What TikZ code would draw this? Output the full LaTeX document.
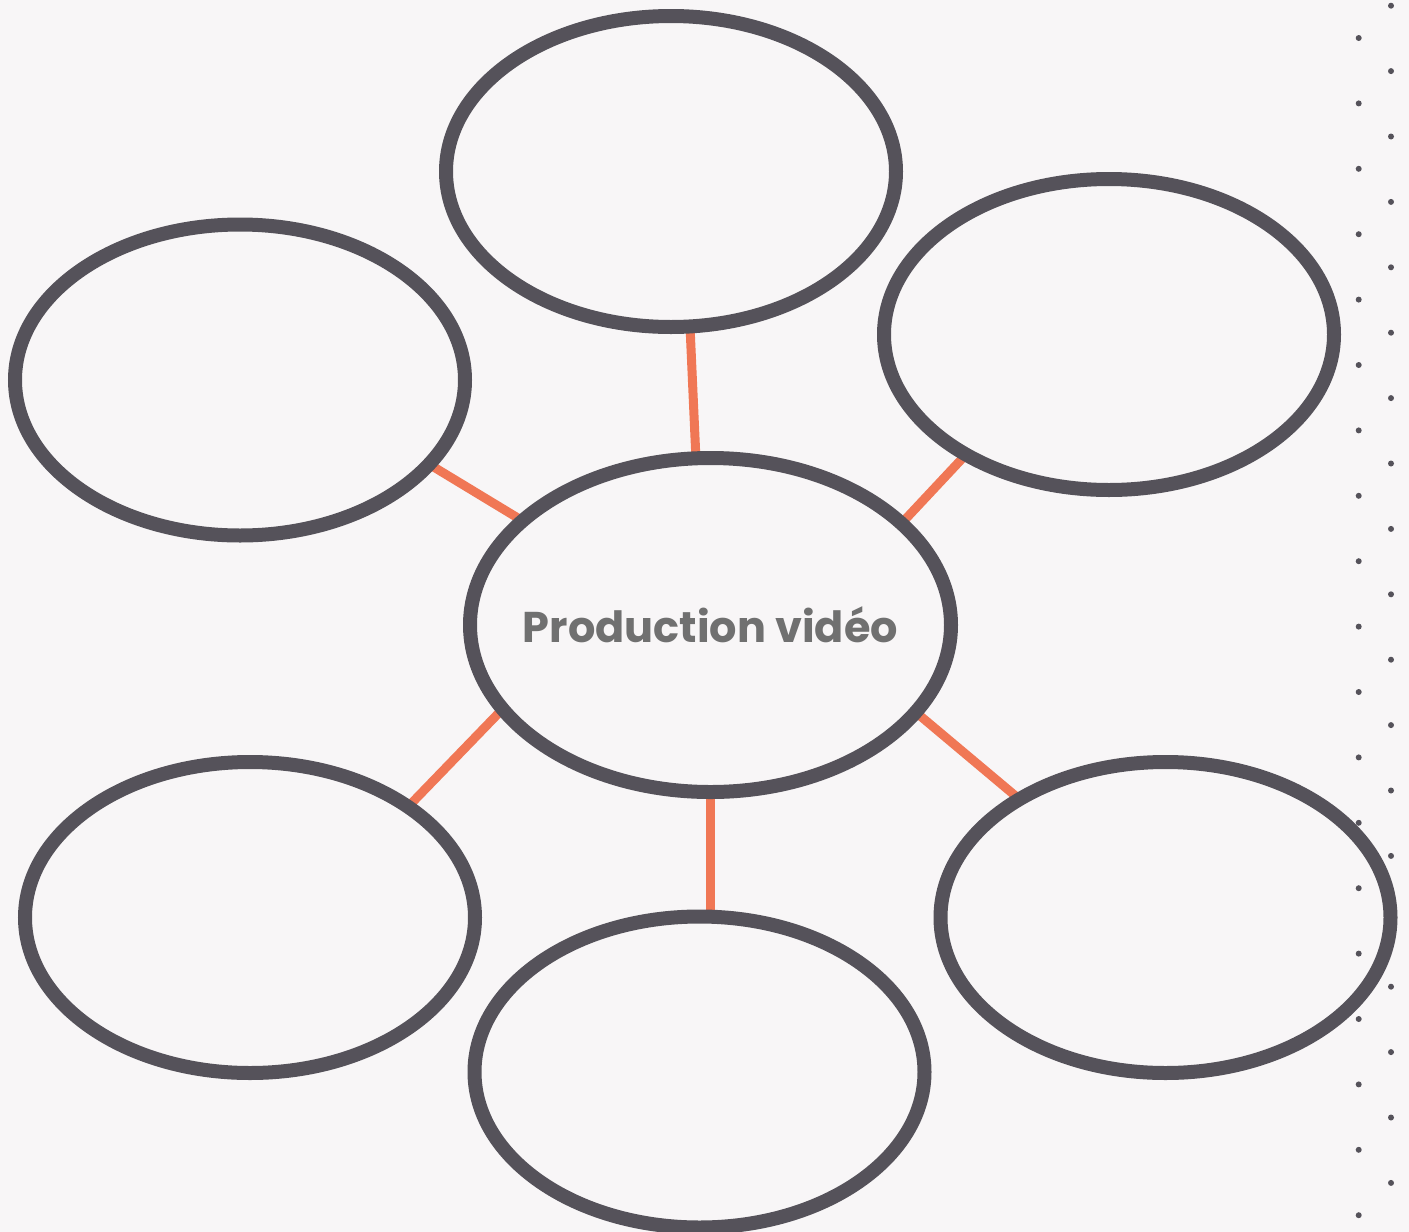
\documentclass[tikz,border=0pt]{standalone}
\usepackage{fontspec}
\newfontfamily\popfont{Poppins}
\usetikzlibrary{shapes.geometric}
\definecolor{bg}{HTML}{F8F6F7}
\definecolor{ink}{HTML}{55525A}
\definecolor{link}{HTML}{F07755}
\definecolor{txt}{HTML}{707070}
\begin{document}
\begin{tikzpicture}[x=1pt,y=-1pt,
  bub/.style={ellipse,draw=ink,line width=14pt,fill=bg,inner sep=0pt,outer sep=0pt,
    minimum width=450pt,minimum height=311pt},
  bigbub/.style={bub,minimum width=481pt,minimum height=334pt},
  conn/.style={draw=link,line width=9pt},
  labeltext/.style={text=txt,inner sep=0pt,font=\popfont\bfseries\fontsize{43}{50}\selectfont},
  dotmark/.style={fill=ink}]
\fill[bg] (0,0) rectangle (1409,1232);
\useasboundingbox (0,0) rectangle (1409,1232);
% node positions (drawn later over connectors)
\path (671,171.5) coordinate (ptop)
      (240,380) coordinate (pul)
      (1109,334.5) coordinate (pur)
      (710.5,625) coordinate (pcen)
      (250,917.5) coordinate (pll)
      (699.5,1072) coordinate (pbot)
      (1165.5,917.5) coordinate (plr);
% invisible nodes for anchors
\begin{scope}
\node[bub,draw=none,fill=none] (top) at (ptop) {};
\node[bub,draw=none,fill=none] (ul) at (pul) {};
\node[bub,draw=none,fill=none] (ur) at (pur) {};
\node[bigbub,draw=none,fill=none] (cen) at (pcen) {};
\node[bub,draw=none,fill=none] (ll) at (pll) {};
\node[bub,draw=none,fill=none] (bot) at (pbot) {};
\node[bub,draw=none,fill=none] (lr) at (plr) {};
\end{scope}
% connectors
\draw[conn] (top.-83.7) -- (cen.95.1);
\draw[conn] (ul.-24.4) -- (cen.151.2);
\draw[conn] (ur.220.8) -- (cen.28.8);
\draw[conn] (ll.35.5) -- (cen.202.9);
\draw[conn] (cen.south) -- ([yshift=2pt]cen.south |- bot.north);
\draw[conn] (lr.141.9) -- (cen.-23.9);
% visible ellipses
\node[bub] (topv) at (ptop) {};
\node[bub] (ulv) at (pul) {};
\node[bub] (urv) at (pur) {};
\node[bub] (llv) at (pll) {};
\node[bub] (botv) at (pbot) {};
\node[bub] (lrv) at (plr) {};
\node[bigbub] (cenv) at (pcen) {};
\node[labeltext] (lab) at (cenv.center) {Production vidéo};
% dotted column
\foreach \i in {0,...,18}{
  \fill[dotmark] (1358.7,{38+65.4*\i}) circle (3pt);
  \fill[dotmark] (1391,{5.7+65.4*\i}) circle (3pt);
}
\end{tikzpicture}
\end{document}
